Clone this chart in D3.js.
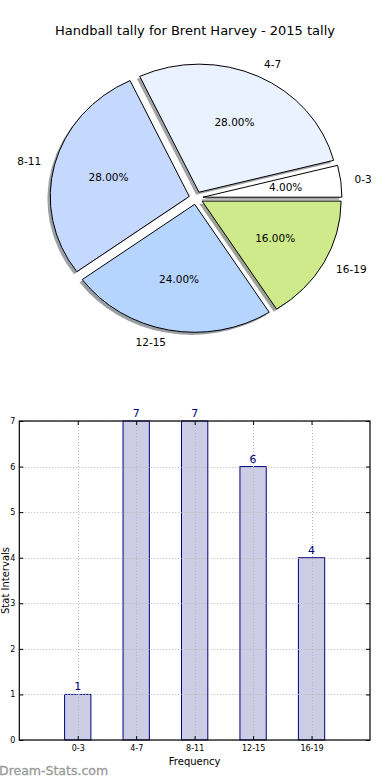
<!DOCTYPE html>
<html><head><meta charset="utf-8">
<script src="https://cdn.jsdelivr.net/npm/d3@7"></script>
<style>body{margin:0;background:#fff}svg{display:block;font-family:"DejaVu Sans",sans-serif}</style>
</head><body>
<svg id="c" width="390" height="780"></svg>
<script>
const title = "Handball tally for Brent Harvey - 2015 tally";
const categories = ["0-3", "4-7", "8-11", "12-15", "16-19"];
const counts = [1, 7, 7, 6, 4];
const pieColors = ["#ffffff", "#eaf1ff", "#c5d9ff", "#b5d5ff", "#ceea8a"];
const yTicks = [0, 1, 2, 3, 4, 5, 6, 7];
const xLabel = "Frequency";
const yLabel = "Stat Intervals";
const watermark = "Dream-Stats.com";

const svg = d3.select("#c");
svg.append("text").attr("x", 195).attr("y", 35).attr("text-anchor", "middle")
  .attr("font-size", 13).attr("fill", "#000").text(title);

// ---- Pie (matplotlib style: counterclockwise from east, exploded, shadow) ----
const cx = 196, cy = 198, rx = 139, ry = 128, explode = 0.05;
const total = d3.sum(counts);
const pie = d3.pie().sort(null).value(d => d).startAngle(0).endAngle(2 * Math.PI);
const arcs = pie(counts);
const unitArc = d3.arc().innerRadius(0).outerRadius(1);
const pieG = svg.append("g");
function pathFor(d) {
  const th1 = d.startAngle, th2 = d.endAngle, mid = (th1 + th2) / 2;
  const p = unitArc({ startAngle: Math.PI / 2 - th2, endAngle: Math.PI / 2 - th1 });
  return { p, mid };
}
const shadowsG = pieG.append("g");
const wedgesG = pieG.append("g");
arcs.forEach((d, i) => {
  const { p, mid } = pathFor(d);
  const ex = cx + explode * rx * Math.cos(mid);
  const ey = cy - explode * ry * Math.sin(mid);
  const c = d3.rgb(pieColors[i]);
  shadowsG.append("path").attr("d", p)
    .attr("transform", `translate(${ex - 2.8},${ey + 2.6}) scale(${rx},${ry})`)
    .attr("fill", `rgba(${Math.round(c.r*0.3)},${Math.round(c.g*0.3)},${Math.round(c.b*0.3)},0.5)`);
  wedgesG.append("path").attr("d", p)
    .attr("transform", `translate(${ex},${ey}) scale(${rx},${ry})`)
    .attr("fill", pieColors[i]).attr("stroke", "#000")
    .attr("stroke-width", 1).attr("vector-effect", "non-scaling-stroke");
  const lx = ex + 1.1 * rx * Math.cos(mid), ly = ey - 1.1 * ry * Math.sin(mid);
  pieG.append("text").attr("x", lx).attr("y", ly).attr("dy", "0.35em")
    .attr("text-anchor", Math.cos(mid) > 0 ? "start" : "end")
    .attr("font-size", 10.5).attr("fill", "#000").text(categories[i]);
  const px = ex + 0.6 * rx * Math.cos(mid), py = ey - 0.6 * ry * Math.sin(mid);
  pieG.append("text").attr("x", px).attr("y", py).attr("dy", "0.35em")
    .attr("text-anchor", "middle").attr("font-size", 10.5).attr("fill", "#000")
    .text((counts[i] / total * 100).toFixed(2) + "%");
});

// ---- Bar chart ----
const L = 19.3, R = 370, T = 421, B = 740;
const x = d3.scaleLinear().domain([-1, 5]).range([L, R]);
const y = d3.scaleLinear().domain([0, 7]).range([B, T]);
const bw = 0.45;
const bars = svg.append("g");
categories.forEach((c, i) => {
  bars.append("rect").attr("x", x(i - bw / 2)).attr("y", y(counts[i]))
    .attr("width", x(i + bw / 2) - x(i - bw / 2)).attr("height", y(0) - y(counts[i]))
    .attr("fill", "#ccccE4").attr("stroke", "#000080").attr("stroke-width", 1);
});
const grid = svg.append("g").attr("stroke", "#b8b8b8").attr("stroke-width", 1).attr("stroke-dasharray", "1,2");
yTicks.forEach(t => grid.append("line").attr("x1", L).attr("x2", R).attr("y1", Math.round(y(t)) + 0.5).attr("y2", Math.round(y(t)) + 0.5));
categories.forEach((c, i) => grid.append("line").attr("x1", Math.round(x(i)) + 0.5).attr("x2", Math.round(x(i)) + 0.5).attr("y1", T).attr("y2", B));
categories.forEach((c, i) => {
  svg.append("text").attr("x", x(i)).attr("y", y(counts[i]) - 4).attr("text-anchor", "middle")
    .attr("font-size", 11).attr("fill", "#000080").text(counts[i]);
});
const yAxis = d3.axisLeft(y).tickValues(yTicks).tickFormat(d3.format("d")).tickSize(-4).tickPadding(4);
const ya = svg.append("g").attr("transform", `translate(${L},0)`).call(yAxis);
const xAxis = d3.axisBottom(x).tickValues(d3.range(categories.length)).tickFormat(i => categories[i]).tickSize(-4).tickPadding(5);
const xa = svg.append("g").attr("transform", `translate(0,${B})`).call(xAxis);
svg.append("g").attr("transform", `translate(${R},0)`).call(d3.axisRight(y).tickValues(yTicks).tickSize(-4).tickFormat(""));
svg.append("g").attr("transform", `translate(0,${T})`).call(d3.axisTop(x).tickValues(d3.range(categories.length)).tickSize(-4).tickFormat(""));
svg.selectAll(".domain").remove();
svg.selectAll(".tick line").attr("stroke", "#000");
[ya, xa].forEach(a => a.selectAll("text").attr("font-size", 8).attr("font-family", "DejaVu Sans").attr("fill", "#000"));
svg.append("rect").attr("x", L).attr("y", T).attr("width", R - L).attr("height", B - T)
  .attr("fill", "none").attr("stroke", "#000").attr("stroke-width", 1.2);
svg.append("text").attr("x", (L + R) / 2).attr("y", 765).attr("text-anchor", "middle")
  .attr("font-size", 10).attr("fill", "#000").text(xLabel);
svg.append("text").attr("transform", `translate(9,${(T + B) / 2}) rotate(-90)`).attr("text-anchor", "middle")
  .attr("font-size", 10).attr("fill", "#000").text(yLabel);
svg.append("text").attr("x", -1).attr("y", 775).attr("font-size", 12.5)
  .attr("fill", "#999").attr("stroke", "#999").attr("stroke-width", 0.3).text(watermark);
</script>
</body></html>
